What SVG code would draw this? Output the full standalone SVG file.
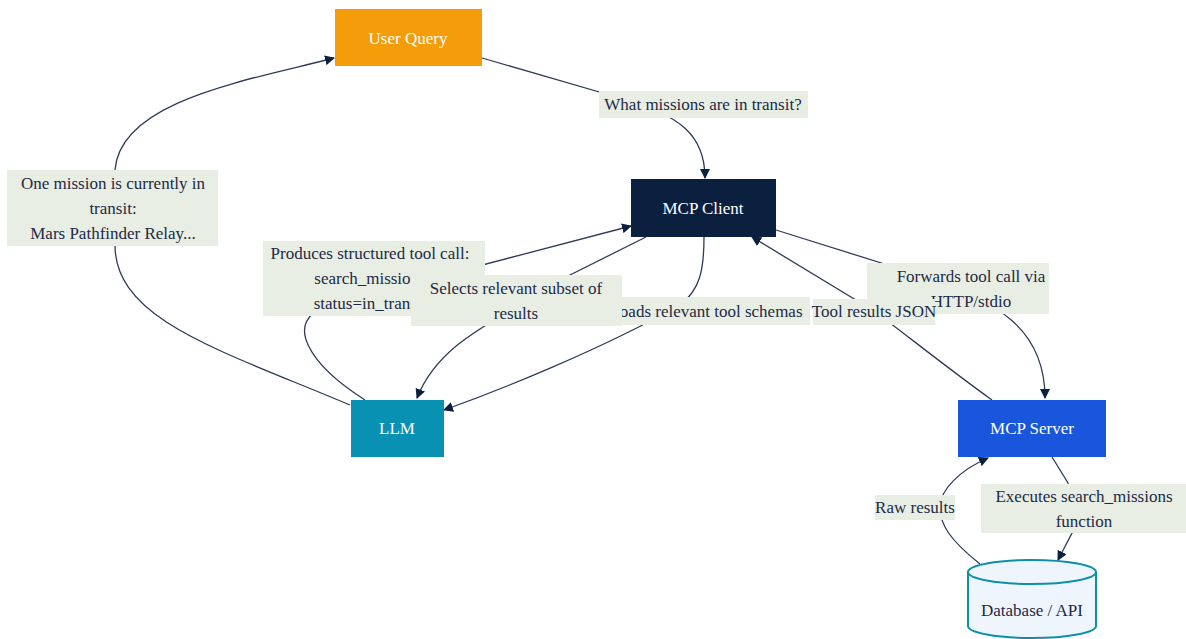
<svg xmlns="http://www.w3.org/2000/svg" width="1186" height="639" viewBox="0 0 1186 639">
<style>
.edge{fill:none;stroke:#2f3b58;stroke-width:1.3}
.lbl rect{fill:#e8eee4}
.lbl text{font-family:"Liberation Serif","Times New Roman",serif;font-size:17px;fill:#1c2a45;text-anchor:middle}
.node text{font-family:"Liberation Serif","Times New Roman",serif;font-size:17px;fill:#ffffff;text-anchor:middle;dominant-baseline:central}
</style>
<defs>
<marker id="arr" viewBox="0 0 10 10" refX="9" refY="5" markerWidth="10" markerHeight="10" markerUnits="userSpaceOnUse" orient="auto">
<path d="M0,0 L10,5 L0,10 z" fill="#0b1f3f"/>
</marker>
</defs>
<rect width="1186" height="639" fill="#ffffff"/>
<g id="connectors">
<path class="edge" marker-end="url(#arr)" d="M482,58 L620,98 C680,115 705,135 705,178"/>
<path class="edge" marker-end="url(#arr)" d="M350,405 C220,350 115,320 115,245 L115,170 C120,100 250,80 334,58"/>
<path class="edge" marker-end="url(#arr)" d="M365,400 C310,365 280,320 330,305 L631,226"/>
<path class="edge" marker-end="url(#arr)" d="M646,237 L560,280 C500,320 440,340 417,398"/>
<path class="edge" marker-end="url(#arr)" d="M704,237 C704,270 700,290 680,305 C600,350 500,390 444,410"/>
<path class="edge" marker-end="url(#arr)" d="M776,230 L910,272 C1000,300 1045,330 1045,398"/>
<path class="edge" marker-end="url(#arr)" d="M992,400 C950,370 900,330 874,311 L752,237"/>
<path class="edge" marker-end="url(#arr)" d="M1052,457 L1068,483 L1072,533 L1058,560"/>
<path class="edge" marker-end="url(#arr)" d="M980,564 C950,540 940,525 940,507 C940,490 960,470 988,458"/>
</g>
<g id="label-answer" class="lbl">
<rect x="7" y="170" width="211" height="76"/>
<text x="113" y="189">One mission is currently in</text>
<text x="113" y="214">transit:</text>
<text x="113" y="239">Mars Pathfinder Relay...</text>
</g>
<g id="label-query" class="lbl">
<rect x="599" y="91" width="209" height="27"/>
<text x="703" y="110">What missions are in transit?</text>
</g>
<g id="label-produces" class="lbl">
<rect x="263" y="241" width="222" height="75"/>
<text x="370" y="259">Produces structured tool call:</text>
<text x="370" y="284">search_missions</text>
<text x="370" y="309">status=in_transit</text>
</g>
<g id="label-loads" class="lbl">
<rect x="602" y="297" width="208" height="28"/>
<text x="706" y="317">Loads relevant tool schemas</text>
</g>
<g id="label-selects" class="lbl">
<rect x="411" y="275" width="211" height="51"/>
<text x="516" y="294">Selects relevant subset of</text>
<text x="516" y="319">results</text>
</g>
<g id="label-forwards" class="lbl">
<rect x="867" y="263" width="182" height="51"/>
<text x="971" y="282">Forwards tool call via</text>
<text x="971" y="307">HTTP/stdio</text>
</g>
<g id="label-toolresults" class="lbl">
<rect x="813" y="299" width="122" height="26"/>
<text x="874" y="317">Tool results JSON</text>
</g>
<g id="label-executes" class="lbl">
<rect x="981" y="484" width="205" height="49"/>
<text x="1084" y="502">Executes search_missions</text>
<text x="1084" y="527">function</text>
</g>
<g id="label-raw" class="lbl">
<rect x="875" y="495" width="80" height="25"/>
<text x="915" y="513">Raw results</text>
</g>
<g id="node-user-query" class="node">
<rect x="335" y="9" width="147" height="57" fill="#f59c0b"/>
<text x="408" y="38">User Query</text>
</g>
<g id="node-mcp-client" class="node">
<rect x="631" y="179" width="145" height="58" fill="#0b1f3f"/>
<text x="703" y="208">MCP Client</text>
</g>
<g id="node-llm" class="node">
<rect x="351" y="400" width="93" height="57" fill="#0891b2"/>
<text x="397" y="428">LLM</text>
</g>
<g id="node-mcp-server" class="node">
<rect x="958" y="400" width="148" height="57" fill="#1a56db"/>
<text x="1032" y="428">MCP Server</text>
</g>
<g id="node-database">
<path d="M968,572 L968,626 A64,12 0 0 0 1096,626 L1096,572 A64,12 0 0 0 968,572 z" fill="#eff5fd" stroke="#0e8fa8" stroke-width="2"/>
<path d="M968,572 A64,12 0 0 0 1096,572" fill="none" stroke="#0e8fa8" stroke-width="2"/>
<text x="1032" y="616" font-family="Liberation Serif, Times New Roman, serif" font-size="17" fill="#1c2a45" text-anchor="middle">Database / API</text>
</g>
</svg>
